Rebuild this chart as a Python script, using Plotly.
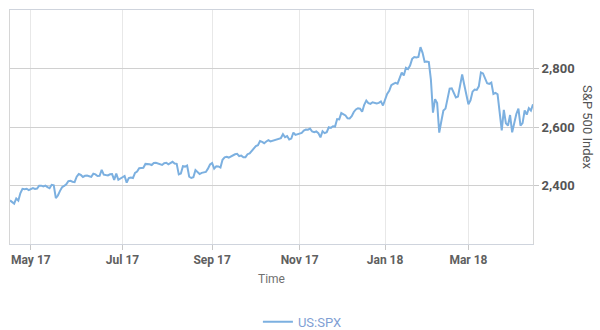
import plotly.graph_objects as go

# Trading days (category axis, one point per session) and S&P 500 closes
months = [
    ("2017-04", [17,18,19,20,21,24,25,26,27,28]),
    ("2017-05", [1,2,3,4,5,8,9,10,11,12,15,16,17,18,19,22,23,24,25,26,30,31]),
    ("2017-06", [1,2,5,6,7,8,9,12,13,14,15,16,19,20,21,22,23,26,27,28,29,30]),
    ("2017-07", [3,5,6,7,10,11,12,13,14,17,18,19,20,21,24,25,26,27,28,31]),
    ("2017-08", [1,2,3,4,7,8,9,10,11,14,15,16,17,18,21,22,23,24,25,28,29,30,31]),
    ("2017-09", [1,5,6,7,8,11,12,13,14,15,18,19,20,21,22,25,26,27,28,29]),
    ("2017-10", [2,3,4,5,6,9,10,11,12,13,16,17,18,19,20,23,24,25,26,27,30,31]),
    ("2017-11", [1,2,3,6,7,8,9,10,13,14,15,16,17,20,21,22,24,27,28,29,30]),
    ("2017-12", [1,4,5,6,7,8,11,12,13,14,15,18,19,20,21,22,26,27,28,29]),
    ("2018-01", [2,3,4,5,8,9,10,11,12,16,17,18,19,22,23,24,25,26,29,30,31]),
    ("2018-02", [1,2,5,6,7,8,9,12,13,14,15,16,20,21,22,23,26,27,28]),
    ("2018-03", [1,2,5,6,7,8,9,12,13,14,15,16,19,20,21,22,23,26,27,28,29]),
    ("2018-04", [2,3,4,5,6,9,10,11,12,13,16]),
]
dates = [f"{m}-{d:02d}" for m, days in months for d in days]

spx = [
    # Apr 2017
    2349.0, 2342.2, 2338.2, 2355.8, 2348.7, 2374.2, 2388.6, 2387.5, 2388.8, 2384.2,
    # May 2017
    2388.3, 2391.2, 2388.1, 2389.5, 2399.3, 2399.4, 2396.9, 2399.6, 2394.4, 2390.9,
    2402.3, 2400.7, 2357.0, 2365.7, 2381.7, 2394.0, 2398.4, 2404.4, 2415.1, 2415.8,
    2412.9, 2411.8,
    # Jun 2017
    2430.1, 2439.1, 2436.1, 2429.3, 2433.1, 2433.8, 2431.8, 2429.4, 2440.4, 2437.9,
    2432.5, 2433.2, 2453.5, 2437.0, 2435.6, 2434.5, 2438.3, 2439.1, 2419.4, 2440.7,
    2419.7, 2423.4,
    # Jul 2017
    2429.0, 2432.5, 2409.8, 2425.2, 2427.4, 2425.5, 2443.3, 2447.8, 2459.3, 2459.1,
    2460.6, 2473.8, 2473.5, 2472.5, 2469.9, 2477.1, 2477.8, 2475.4, 2472.1, 2470.3,
    # Aug 2017
    2476.4, 2477.6, 2472.2, 2476.8, 2480.9, 2474.9, 2474.0, 2438.2, 2441.3, 2465.8,
    2464.6, 2468.1, 2430.0, 2425.6, 2428.4, 2452.5, 2444.0, 2439.0, 2443.1, 2444.2,
    2446.3, 2457.6, 2471.7,
    # Sep 2017
    2476.6, 2457.9, 2465.5, 2465.1, 2461.4, 2488.1, 2496.5, 2498.4, 2495.6, 2500.2,
    2503.9, 2506.7, 2508.2, 2500.6, 2502.2, 2496.7, 2496.8, 2507.0, 2510.1, 2519.4,
    # Oct 2017
    2529.1, 2534.6, 2537.7, 2552.1, 2549.3, 2544.7, 2550.6, 2555.2, 2550.9, 2553.2,
    2557.6, 2559.4, 2561.3, 2562.1, 2575.2, 2565.0, 2569.1, 2557.2, 2560.4, 2581.1,
    2572.8, 2575.3,
    # Nov 2017
    2579.4, 2579.9, 2587.8, 2591.1, 2590.6, 2594.4, 2584.6, 2582.3, 2584.8, 2578.9,
    2564.6, 2585.6, 2578.9, 2582.1, 2599.0, 2597.1, 2602.4, 2601.4, 2627.0, 2626.1,
    2647.6,
    # Dec 2017
    2642.2, 2639.4, 2629.6, 2629.3, 2637.0, 2651.5, 2660.0, 2664.1, 2662.9, 2652.0,
    2675.8, 2690.2, 2681.5, 2679.3, 2684.6, 2683.3, 2680.5, 2682.6, 2687.5, 2673.6,
    # Jan 2018
    2695.8, 2713.1, 2724.0, 2743.2, 2747.7, 2751.3, 2748.2, 2767.6, 2786.2, 2776.4,
    2802.6, 2798.0, 2810.3, 2833.0, 2839.1, 2837.5, 2839.3, 2872.9, 2853.5, 2822.4,
    2823.8,
    # Feb 2018
    2822.0, 2762.1, 2648.9, 2695.1, 2681.7, 2581.0, 2619.6, 2656.0, 2662.9, 2698.6,
    2731.2, 2732.2, 2716.3, 2701.3, 2704.0, 2747.3, 2779.6, 2744.3, 2713.8,
    # Mar 2018
    2677.7, 2691.3, 2720.9, 2728.1, 2726.8, 2739.0, 2786.6, 2783.0, 2765.3, 2749.5,
    2747.3, 2752.0, 2712.9, 2716.9, 2711.9, 2643.7, 2588.3, 2658.6, 2612.6, 2605.0,
    2640.9,
    # Apr 2018
    2581.9, 2614.5, 2644.7, 2662.8, 2604.5, 2613.2, 2656.9, 2642.2, 2664.0, 2656.3,
    2677.8,
]

tick_dates = ["2017-05-01", "2017-07-03", "2017-09-01", "2017-11-01", "2018-01-02", "2018-03-01"]
tick_labels = ["May 17", "Jul 17", "Sep 17", "Nov 17", "Jan 18", "Mar 18"]
y_ticks = [2400, 2600, 2800]

FONT = "Roboto"

fig = go.Figure()
fig.add_trace(go.Scatter(
    x=dates, y=spx, mode="lines", name="US:SPX",
    line=dict(color="#7cb0e0", width=2),
))

fig.update_layout(
    width=600, height=330,
    margin=dict(l=10, r=67, t=10, b=86, autoexpand=False),
    paper_bgcolor="white", plot_bgcolor="white",
    font=dict(family=FONT, size=12, color="#666666"),
    showlegend=True,
    legend=dict(
        orientation="h", x=0.474, xanchor="left",
        yref="container", y=0.025, yanchor="middle",
        font=dict(family=FONT, size=13, color="#7f9fd4"),
        bgcolor="rgba(0,0,0,0)",
    ),
    xaxis=dict(
        type="category", automargin=False,
        range=[0, len(dates) - 1],
        tickmode="array", tickvals=tick_dates, ticktext=tick_labels,
        ticks="outside", ticklen=5, tickcolor="#c8c8c8",
        showgrid=True, gridcolor="#e8e8e8", gridwidth=1,
        showline=True, linecolor="#cfd4dd", linewidth=1, mirror=True,
        tickfont=dict(family=FONT, size=12, color="#606060", weight="bold"),
        title=dict(text="Time", font=dict(family=FONT, size=12, color="#707070"), standoff=8),
        zeroline=False,
    ),
    yaxis=dict(
        side="right", automargin=False,
        range=[2200, 3000],
        tickmode="array", tickvals=y_ticks,
        tickformat=",d",
        ticks="outside", ticklen=5, tickcolor="#c8c8c8",
        showgrid=True, gridcolor="#d0d0d0", gridwidth=1,
        showline=True, linecolor="#d6d6d6", linewidth=1, mirror=True,
        tickfont=dict(family=FONT, size=13, color="#555555", weight="bold"),
        zeroline=False,
    ),
    annotations=[dict(
        text="S&P 500 Index", xref="paper", yref="paper",
        x=1.105, y=0.5, xanchor="center", yanchor="middle",
        textangle=90, showarrow=False,
        font=dict(family=FONT, size=13, color="#555555"),
    )],
)

fig.write_html("out.html")
